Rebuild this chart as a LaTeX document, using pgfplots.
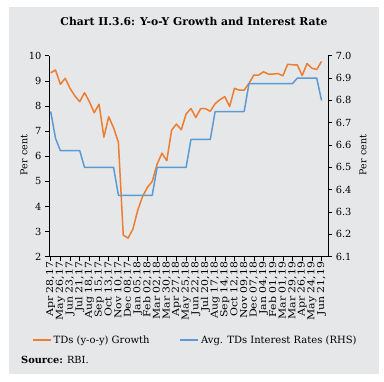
\documentclass[border=0pt]{standalone}
\usepackage{fontspec}
\setmainfont{DejaVu Serif}
\newfontfamily\tickfont{DejaVu Serif}[FakeStretch=1.15]
\usepackage{pgfplots}
\usepackage{pgfplotstable}
\pgfplotsset{compat=1.18}
\definecolor{bgc}{RGB}{230,231,232}
\definecolor{tdor}{RGB}{237,125,49}
\definecolor{tdbl}{RGB}{91,155,213}
\pgfplotstableread{
i tds rate
0 9.32 6.75
1 9.43 6.63
2 8.86 6.575
3 9.10 6.575
4 8.70 6.575
5 8.40 6.575
6 8.17 6.575
7 8.53 6.50
8 8.17 6.50
9 7.73 6.50
10 8.07 6.50
11 6.76 6.50
12 7.57 6.50
13 7.13 6.50
14 6.56 6.375
15 2.86 6.375
16 2.74 6.375
17 3.10 6.375
18 3.85 6.375
19 4.40 6.375
20 4.76 6.375
21 5.00 6.375
22 5.68 6.50
23 6.12 6.50
24 5.82 6.50
25 7.04 6.50
26 7.28 6.50
27 7.05 6.50
28 7.68 6.50
29 7.90 6.625
30 7.54 6.625
31 7.89 6.625
32 7.89 6.625
33 7.79 6.625
34 8.09 6.75
35 8.25 6.75
36 8.37 6.75
37 7.98 6.75
38 8.70 6.75
39 8.63 6.75
40 8.63 6.75
41 8.90 6.875
42 9.23 6.875
43 9.23 6.875
44 9.36 6.875
45 9.27 6.875
46 9.27 6.875
47 9.29 6.875
48 9.20 6.875
49 9.66 6.875
50 9.64 6.875
51 9.63 6.90
52 9.21 6.90
53 9.69 6.90
54 9.50 6.90
55 9.45 6.90
56 9.77 6.80
}\datatable
\begin{document}
\begin{tikzpicture}[x=1pt,y=1pt]
\fill[white] (0,0) rectangle (384,382);
\fill[bgc] (9,8) rectangle (379,375);
\node[font=\bfseries\fontsize{10.8}{12}\selectfont] at (194,360.3) {Chart II.3.6: Y-o-Y Growth and Interest Rate};
\node[anchor=west,font=\fontsize{9.8}{11}\selectfont,inner sep=0pt] at (21,22) {\textbf{Source:} RBI.};
\pgfplotsset{
  common/.style={
    at={(49pt,125.3pt)}, anchor=south west,
    scale only axis, width=279.3pt, height=201pt,
    xmin=-0.35, xmax=57.4,
    tick align=outside, major tick length=4pt,
    tick style={black, line width=0.6pt},
    axis line style={black, line width=0.6pt},
    /pgf/number format/assume math mode=true,
    ticklabel style={font=\fontsize{9.8}{10}\selectfont},
    ylabel style={font=\fontsize{9.5}{10}\selectfont, rotate=0},
  }
}
\begin{axis}[common,
  axis x line*=bottom, axis y line*=left,
  ymin=2, ymax=10, ytick={2,3,4,5,6,7,8,9,10},
  xtick={0,2,...,56},
  xticklabels={{Apr 28,17},{May 26,17},{Jun 23,17},{Jul 21,17},{Aug 18,17},{Sep 15,17},{Oct 13,17},{Nov 10,17},{Dec 08,17},{Jan 05,18},{Feb 02,18},{Mar 02,18},{Mar 30,18},{Apr 27,18},{May 25,18},{Jun 22,18},{Jul 20,18},{Aug 17,18},{Sep 14,18},{Oct 12,18},{Nov 09,18},{Dec 07,18},{Jan 04,19},{Feb 01,19},{Mar 01,19},{Mar 29,19},{Apr 26,19},{May 24,19},{Jun 21,19}},
  xticklabel style={rotate=90, anchor=east, inner sep=1pt, font=\tickfont\fontsize{9.5}{10}\selectfont},
  ylabel={Per cent},
  ylabel style={at={(axis description cs:-0.0895,0.506)}, anchor=center},
]
\addplot[tdor, line width=1.5pt, line join=round] table[x=i, y=tds] {\datatable};
\end{axis}
\begin{axis}[common,
  axis y line*=right, axis x line=none,
  ymin=6.1, ymax=7.0,
  ytick={6.1,6.2,6.3,6.4,6.5,6.6,6.7,6.8,6.9,7.0},
  yticklabel style={/pgf/number format/.cd, fixed, fixed zerofill, precision=1},
  ylabel={Per cent},
  ylabel style={at={(axis description cs:1.124,0.506)}, anchor=center, rotate=0},
  legend style={at={(axis description cs:-0.0609,-0.4144)}, anchor=west, draw=none, fill=none, inner sep=0pt,
    legend columns=2, font=\fontsize{10}{11}\selectfont,
    /tikz/every even column/.append style={column sep=28pt}},
  legend cell align=left,
  legend image code/.code={\draw[#1] (0pt,0pt) -- (18pt,0pt);},
]
\addlegendimage{tdor, line width=1.5pt}
\addlegendentry{TDs (y-o-y) Growth}
\addplot[tdbl, line width=1.5pt, line join=round] table[x=i, y=rate] {\datatable};
\addlegendentry{Avg. TDs Interest Rates (RHS)}
\end{axis}
\end{tikzpicture}
\end{document}
